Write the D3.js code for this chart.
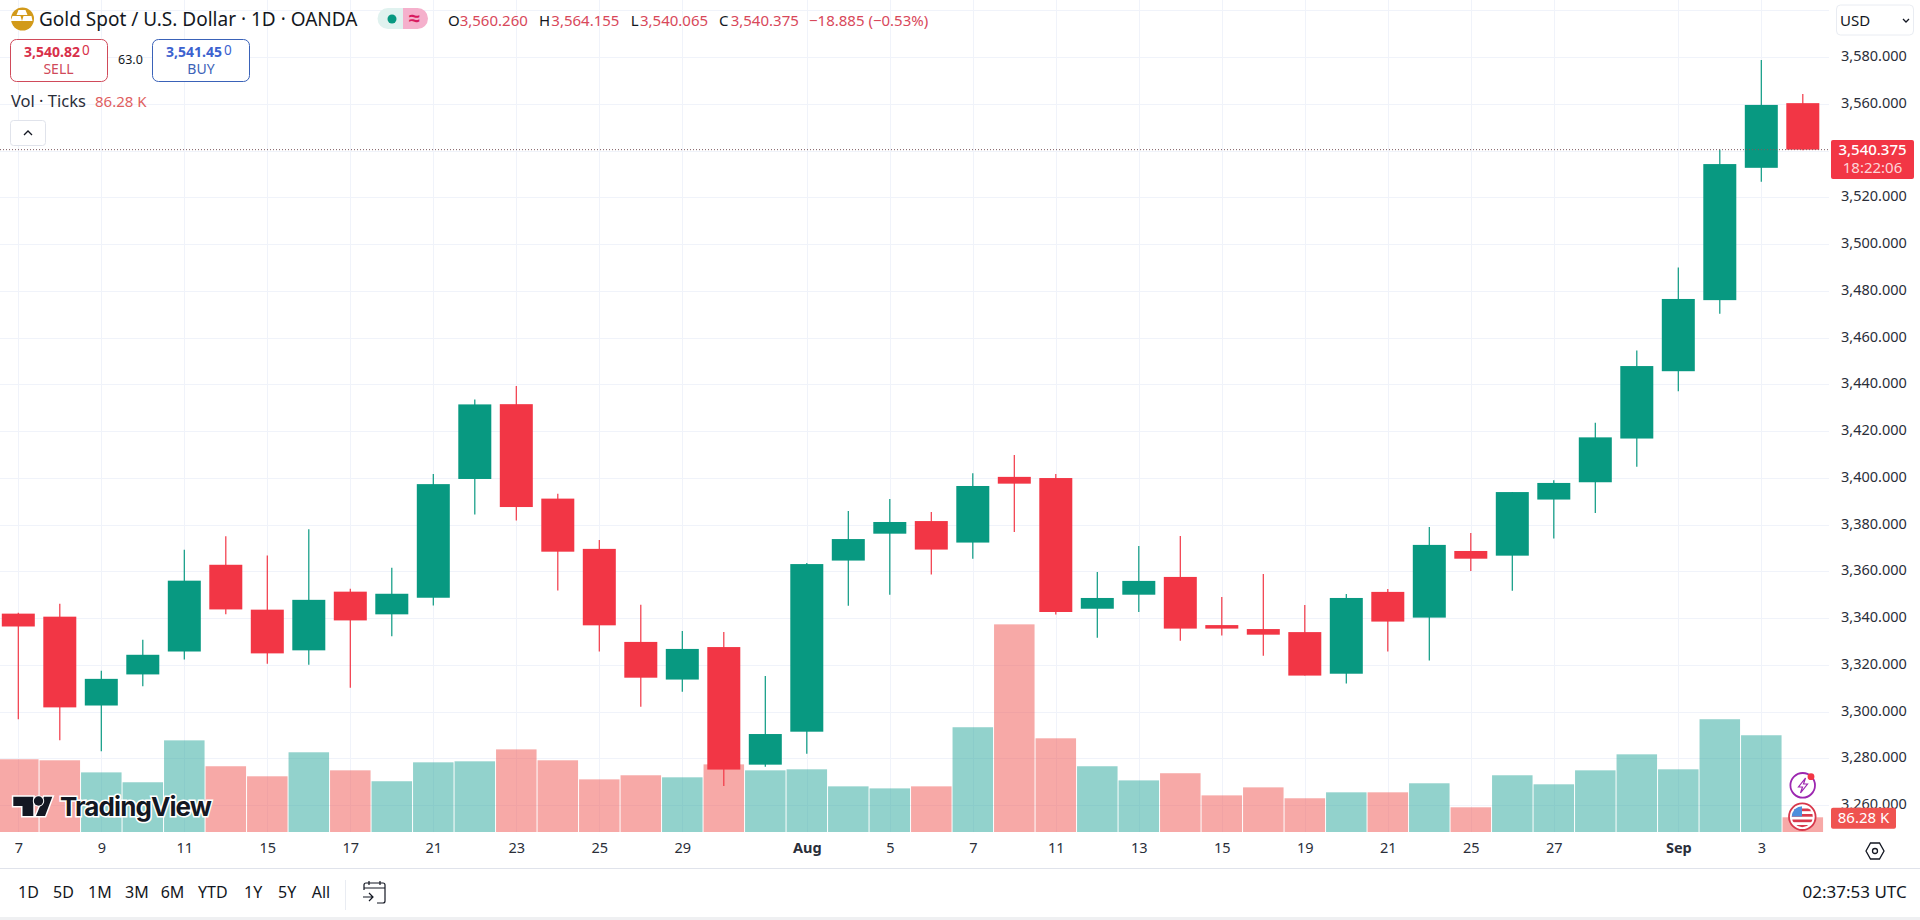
<!DOCTYPE html>
<html lang="en">
<head>
    <meta charset="UTF-8">
    <title>Gold Spot / U.S. Dollar</title>
    <script src="https://cdnjs.cloudflare.com/ajax/libs/d3/7.8.5/d3.min.js"></script>
    <style>
        html, body { margin: 0; padding: 0; background: #fff; overflow: hidden; }
        svg { display: block; }
        text { font-family: "Noto Sans", Arial, sans-serif; fill: #131722; }
        .grid line { stroke: #f0f3fa; stroke-width: 1; shape-rendering: crispEdges; }
        .grid path, .axis path, .axis line { display: none; }
        .axis text { font-size: 14.5px; fill: #2a2e39; }
    </style>
</head>
<body>
    <div id="chart"></div>

    <script>
        // Daily candles, Jul 7 to Sep 4, one entry per bar
        const opens  = [3341.9,3340.6,3302.6,3315.9,3325.7,3362.8,3343.6,3326.2,3351.3,3341.6,3348.7,3399.5,3431.5,3391.1,3369.6,3329.8,3313.7,3327.6,3277.3,3291.4,3364.6,3376.1,3381.5,3372.3,3400.4,3399.9,3344.0,3350.0,3357.6,3337.0,3335.3,3334.0,3316.2,3351.2,3340.2,3368.7,3366.7,3390.7,3398.1,3416.8,3445.6,3476.0,3532.6,3560.26];
        const highs  = [3342.3,3346.1,3317.5,3330.7,3369.2,3375.0,3366.8,3378.0,3352.5,3361.5,3401.6,3433.5,3439.3,3393.2,3373.4,3345.7,3334.5,3334.0,3315.2,3363.6,3385.8,3390.9,3385.4,3402.0,3409.8,3401.6,3359.7,3370.8,3375.1,3349.0,3358.9,3345.6,3350.3,3352.4,3379.0,3376.4,3393.9,3399.0,3423.6,3454.5,3490.0,3540.4,3578.7,3564.155];
        const lows   = [3296.7,3287.7,3283.0,3310.8,3322.3,3341.6,3320.5,3320.0,3310.2,3332.2,3345.4,3384.3,3381.7,3351.8,3325.7,3302.1,3308.5,3268.2,3276.4,3282.0,3345.3,3350.0,3358.6,3365.4,3376.8,3341.5,3331.6,3342.6,3330.3,3332.5,3323.9,3315.4,3312.0,3325.7,3321.8,3360.1,3351.7,3374.0,3384.9,3404.7,3437.0,3470.2,3526.6,3540.065];
        const closes = [3336.4,3301.8,3314.0,3324.3,3356.0,3343.7,3324.9,3347.8,3339.0,3350.4,3397.3,3431.4,3387.5,3368.4,3336.9,3314.5,3326.8,3275.2,3290.4,3363.1,3373.8,3381.1,3369.3,3396.5,3397.5,3342.6,3348.6,3355.9,3335.5,3335.5,3332.9,3315.4,3348.6,3338.5,3371.3,3365.4,3393.9,3397.8,3417.3,3447.8,3476.5,3534.2,3559.5,3540.375];
        // Tick volume in thousands
        const volumes = [427,421,350,292,538,386,327,468,362,298,409,415,485,421,309,333,321,397,362,368,268,256,268,615,1219,550,386,303,345,215,262,198,233,233,286,145,333,280,362,456,368,662,568,86.28];

        const tickBars   = [0,2,4,6,8,10,12,14,16,19,21,23,25,27,29,31,33,35,37,40,42];
        const tickLabels = ["7","9","11","15","17","21","23","25","29","Aug","5","7","11","13","15","19","21","25","27","Sep","3"];
        const priceTicks = [3580,3560,3520,3500,3480,3460,3440,3420,3400,3380,3360,3340,3320,3300,3280,3260];
        const gridPrices = [3600,3580,3560,3540,3520,3500,3480,3460,3440,3420,3400,3380,3360,3340,3320,3300,3280,3260];
        const rangeLabels = ["1D","5D","1M","3M","6M","YTD","1Y","5Y","All"];
        const rangeX      = [18,53,88,125,160.7,198,244,278,311.7];

        const lastPrice = closes[closes.length - 1];
        const upColor = "#089981", downColor = "#f23645";
        const paneRight = 1829, paneBottom = 832;

        const svg = d3.select("#chart").append("svg")
            .attr("width", 1920)
            .attr("height", 920);

        const x = d3.scaleLinear().domain([0, 43]).range([18.3, 1802.8]);
        const y = d3.scaleLinear().domain([3600, 3260]).range([10.25, 805.1]);
        const v = d3.scaleLinear().domain([0, 1200]).range([paneBottom, paneBottom - 204.4]);
        const step = x(1) - x(0);
        const isUp = i => closes[i] >= opens[i];

        // Grid lines
        svg.append("g").attr("class", "grid")
            .attr("transform", `translate(${paneRight},0)`)
            .call(d3.axisLeft(y).tickValues(gridPrices).tickSize(paneRight).tickFormat(""));
        svg.append("g").attr("class", "grid")
            .attr("transform", `translate(0,${paneBottom})`)
            .call(d3.axisTop(x).tickValues(tickBars).tickSize(paneBottom).tickFormat(""));

        // Volume bars sit under the candles
        svg.append("g").selectAll("rect")
            .data(volumes)
            .join("rect")
            .attr("x", (d, i) => x(i) - step / 2 + 0.5)
            .attr("width", step - 1)
            .attr("y", d => v(d))
            .attr("height", d => paneBottom - v(d))
            .attr("fill", (d, i) => isUp(i) ? "#26a69a" : "#ef5350")
            .attr("opacity", 0.5);

        // Wicks and bodies
        const candles = svg.append("g").selectAll("g")
            .data(opens)
            .join("g");
        candles.append("line")
            .attr("x1", (d, i) => x(i))
            .attr("x2", (d, i) => x(i))
            .attr("y1", (d, i) => y(highs[i]))
            .attr("y2", (d, i) => y(lows[i]))
            .attr("stroke", (d, i) => isUp(i) ? upColor : downColor)
            .attr("stroke-width", 1.2);
        candles.append("rect")
            .attr("x", (d, i) => x(i) - 16.5)
            .attr("width", 33)
            .attr("y", (d, i) => y(Math.max(opens[i], closes[i])))
            .attr("height", (d, i) => Math.abs(y(opens[i]) - y(closes[i])))
            .attr("fill", (d, i) => isUp(i) ? upColor : downColor);

        // Last price line
        svg.append("line")
            .attr("x1", 0).attr("x2", paneRight)
            .attr("y1", y(lastPrice)).attr("y2", y(lastPrice))
            .attr("stroke", "#7d5a60")
            .attr("stroke-dasharray", "1,2");

        // Price axis
        svg.append("g").attr("class", "axis")
            .attr("transform", "translate(1835,-1)")
            .call(d3.axisRight(y).tickValues(priceTicks).tickSize(0).tickPadding(6).tickFormat(d3.format(",.3f")));

        // Time axis
        const timeAxis = svg.append("g").attr("class", "axis")
            .attr("transform", `translate(0,${paneBottom})`)
            .call(d3.axisBottom(x).tickValues(tickBars).tickSize(0).tickPadding(11)
                .tickFormat((d, i) => tickLabels[i]));
        timeAxis.selectAll("text")
            .style("font-weight", (d, i) => isNaN(+tickLabels[i]) ? "700" : "400");

        function label(txt, px, py, size, color, opts) {
            opts = opts || {};
            return svg.append("text")
                .attr("x", px).attr("y", py)
                .style("font-size", size + "px")
                .style("fill", color)
                .style("font-weight", opts.weight || 400)
                .attr("text-anchor", opts.anchor || "start")
                .text(txt);
        }

        // Last price and volume badges
        svg.append("rect").attr("x", 1831).attr("y", 140).attr("width", 83).attr("height", 39)
            .attr("rx", 2).attr("fill", downColor);
        label(d3.format(",.3f")(lastPrice), 1872.5, 155, 15, "#fff", {anchor: "middle", weight: 500});
        label("18:22:06", 1872.5, 173, 15, "#fcd5d8", {anchor: "middle"});
        svg.append("rect").attr("x", 1831).attr("y", 807.7).attr("width", 65).attr("height", 21)
            .attr("rx", 2).attr("fill", "#ef5350");
        label("86.28 K", 1863.5, 823, 15, "#fff", {anchor: "middle"});

        // Header
        const header = svg.append("g");
        header.append("circle").attr("cx", 22.5).attr("cy", 19).attr("r", 11.5).attr("fill", "#d29a1a");
        header.append("path").attr("d", "M19 11h7l2 5h-11zM13 17h8l1.500 5h-11.500zM24 17h8l1 5h-10.500z")
            .attr("fill", "#fff").attr("transform", "translate(-0.5,-1)");
        label("Gold Spot / U.S. Dollar · 1D · OANDA", 39, 26, 19, "#131722");

        header.append("path").attr("d", "M403 8H388a10.500 10.500 0 0 0 0 21H403z").attr("fill", "#e0f2ef");
        header.append("path").attr("d", "M403 8H417.500a10.500 10.500 0 0 1 0 21H403z").attr("fill", "#f5b0cc");
        header.append("circle").attr("cx", 392).attr("cy", 19).attr("r", 4.5).attr("fill", upColor);
        label("≈", 414.5, 25, 20, "#d81b60", {anchor: "middle", weight: 700});

        const ohlcKeys = ["O", "H", "L", "C"];
        const ohlcVals = [opens[43], highs[43], lows[43], closes[43]];
        const ohlcX = [448, 539, 630.7, 719];
        const ohlcGap = [11.7, 12.3, 9.3, 11.7];
        ohlcKeys.forEach((k, i) => {
            label(k, ohlcX[i], 26, 15, "#131722");
            label(d3.format(",.3f")(ohlcVals[i]), ohlcX[i] + ohlcGap[i], 26, 15, "#d8485a");
        });
        label("−18.885 (−0.53%)", 809, 26, 15, "#d8485a");

        // Sell and buy boxes
        svg.append("rect").attr("x", 10.5).attr("y", 39.5).attr("width", 97).attr("height", 42)
            .attr("rx", 6).attr("fill", "#fff").attr("stroke", "#d04a5a");
        label("3,540.82", 24, 57, 14, "#d8304a", {weight: 700});
        label("0", 82, 55, 13.5, "#d8304a");
        label("SELL", 58.5, 74, 14, "#d04a5a", {anchor: "middle"});
        label("63.0", 118, 64, 12.5, "#131722");
        svg.append("rect").attr("x", 152.5).attr("y", 39.5).attr("width", 97).attr("height", 42)
            .attr("rx", 6).attr("fill", "#fff").attr("stroke", "#3a62b8");
        label("3,541.45", 166, 57, 14, "#3c62cf", {weight: 700});
        label("0", 224, 55, 13.5, "#3c62cf");
        label("BUY", 201, 74, 14, "#3c62b8", {anchor: "middle"});

        label("Vol · Ticks", 11, 107, 16.5, "#2a2e39");
        label("86.28 K", 95, 107, 15, "#e0605f");

        svg.append("rect").attr("x", 10.5).attr("y", 120.5).attr("width", 35).attr("height", 25)
            .attr("rx", 3).attr("fill", "#fff").attr("stroke", "#e0e3eb");
        svg.append("path").attr("d", "M24 135l4-4 4 4").attr("fill", "none").attr("stroke", "#131722").attr("stroke-width", 1.3);

        // Currency button
        svg.append("rect").attr("x", 1836.5).attr("y", 5).attr("width", 77).attr("height", 30)
            .attr("rx", 4).attr("fill", "#fff").attr("stroke", "#e9ecf2");
        label("USD", 1840, 26, 15, "#131722");
        svg.append("path").attr("d", "M1903 19l3 3 3-3").attr("fill", "none").attr("stroke", "#131722").attr("stroke-width", 1.3);

        // TradingView watermark
        const logo = svg.append("g");
        logo.append("path")
            .attr("d", "M13.300 796.700H33.300V816H22.500V806H13.300Z M52.300 796.700H44L36 816H45Z")
            .attr("fill", "#131722").attr("stroke", "#fff").attr("stroke-width", 3).attr("paint-order", "stroke");
        logo.append("circle").attr("cx", 38.5).attr("cy", 801).attr("r", 4.7)
            .attr("fill", "#131722").attr("stroke", "#fff").attr("stroke-width", 2).attr("paint-order", "stroke");
        label("TradingView", 60, 815.5, 26, "#131722", {weight: 700})
            .style("font-family", "Inter, sans-serif")
            .style("letter-spacing", "-0.9px")
            .style("stroke", "#fff").style("stroke-width", 3).style("paint-order", "stroke");

        // Marks at the right end of the pane
        svg.append("circle").attr("cx", 1802.7).attr("cy", 785.3).attr("r", 12.3)
            .attr("fill", "#fff").attr("stroke", "#9c27b0").attr("stroke-width", 1.8);
        svg.append("path").attr("d", "M1805.500 778l-7 9h4l-2 6 7-9h-4z").attr("fill", "#fff").attr("stroke", "#9c27b0").attr("stroke-width", 1.2);
        svg.append("circle").attr("cx", 1811).attr("cy", 776.7).attr("r", 3.4).attr("fill", downColor);

        const flagClip = svg.append("clipPath").attr("id", "flag-clip");
        flagClip.append("circle").attr("cx", 1802.3).attr("cy", 816.7).attr("r", 10.5);
        svg.append("circle").attr("cx", 1802.3).attr("cy", 816.7).attr("r", 13.3)
            .attr("fill", "#fff").attr("stroke", "#d8384c").attr("stroke-width", 1.8);
        const flag = svg.append("g").attr("clip-path", "url(#flag-clip)");
        [0, 1, 2, 3].forEach(i => {
            flag.append("rect").attr("x", 1790).attr("y", 808.500 + i * 5.500).attr("width", 24).attr("height", 2.700).attr("fill", "#d8384c");
        });
        flag.append("rect").attr("x", 1790).attr("y", 806).attr("width", 12).attr("height", 10.5).attr("fill", "#4d8fdc");

        // Settings hexagon
        svg.append("path").attr("d", "M1866 851l4.500-8h9l4.500 8-4.500 8h-9z")
            .attr("fill", "none").attr("stroke", "#131722").attr("stroke-width", 1.3);
        svg.append("circle").attr("cx", 1875).attr("cy", 851).attr("r", 2.5)
            .attr("fill", "none").attr("stroke", "#131722").attr("stroke-width", 1.3);

        // Bottom toolbar
        svg.append("line").attr("x1", 0).attr("x2", 1920).attr("y1", 868.5).attr("y2", 868.5).attr("stroke", "#e0e3eb");
        svg.append("rect").attr("x", 0).attr("y", 917).attr("width", 1920).attr("height", 3).attr("fill", "#eff0f2");
        rangeLabels.forEach((t, i) => label(t, rangeX[i], 898, 16, "#131722"));
        svg.append("line").attr("x1", 345.5).attr("x2", 345.5).attr("y1", 880).attr("y2", 910).attr("stroke", "#e9ecf2");
        svg.append("path")
            .attr("d", "M364 890V885a2 2 0 0 1 2-2h17a2 2 0 0 1 2 2v16a2 2 0 0 1-2 2h-6M364 888h21M369 881v4M380 881v4M363 897h10M369 893l4 4-4 4")
            .attr("fill", "none").attr("stroke", "#131722").attr("stroke-width", 1.2);
        label("02:37:53 UTC", 1906.7, 898, 17, "#131722", {anchor: "end"});
    </script>
</body>
</html>
